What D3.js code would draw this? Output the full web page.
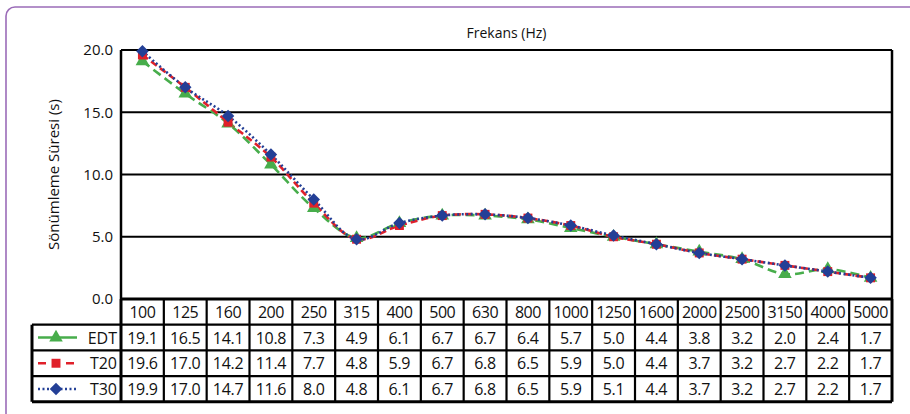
<!DOCTYPE html>
<html>
<head>
<meta charset="utf-8">
<script src="https://cdn.jsdelivr.net/npm/d3@7"></script>
<style>
  body { margin: 0; background: #fff; }
  svg { display: block; font-family: "Open Sans", sans-serif; }
</style>
</head>
<body>
<div id="chart"></div>
<script>
const categories = ["100", "125", "160", "200", "250", "315", "400", "500", "630", "800", "1000", "1250", "1600", "2000", "2500", "3150", "4000", "5000"];
const edt = [19.1, 16.5, 14.1, 10.8, 7.3, 4.9, 6.1, 6.7, 6.7, 6.4, 5.7, 5.0, 4.4, 3.8, 3.2, 2.0, 2.4, 1.7];
const t20 = [19.6, 17.0, 14.2, 11.4, 7.7, 4.8, 5.9, 6.7, 6.8, 6.5, 5.9, 5.0, 4.4, 3.7, 3.2, 2.7, 2.2, 1.7];
const t30 = [19.9, 17.0, 14.7, 11.6, 8.0, 4.8, 6.1, 6.7, 6.8, 6.5, 5.9, 5.1, 4.4, 3.7, 3.2, 2.7, 2.2, 1.7];
const yTicks = [0, 5, 10, 15, 20];
const seriesNames = ["EDT", "T20", "T30"];

const width = 910, height = 414;
const margin = { left: 121, right: 18, top: 50, bottom: 115 };
const graphWidth = width - margin.left - margin.right;
const graphHeight = height - margin.top - margin.bottom;
const rowH = 25.7;
const legendLeft = 32;

// diamond = square turned 45 degrees
const series = [
  { name: seriesNames[0], values: edt, color: "#47ad4b", dash: "9,5", legendDash: null, marker: d3.symbolTriangle, size: 80, rot: 0 },
  { name: seriesNames[1], values: t20, color: "#e0202a", dash: "7,4", legendDash: "8,6", marker: d3.symbolSquare, size: 80, rot: 0 },
  { name: seriesNames[2], values: t30, color: "#233f96", dash: "2,2.5", legendDash: "2,2.5", marker: d3.symbolSquare, size: 78, rot: 45 }
];

const svg = d3.select("#chart").append("svg")
  .attr("width", width)
  .attr("height", height);

// purple frame
svg.append("rect")
  .attr("x", 6).attr("y", 7)
  .attr("width", width + 20).attr("height", height + 20)
  .attr("rx", 9)
  .attr("fill", "none")
  .attr("stroke", "#9b6cb8")
  .attr("stroke-width", 1.6);

const x = d3.scaleBand()
  .domain(categories)
  .range([margin.left, margin.left + graphWidth]);

const y = d3.scaleLinear()
  .domain([0, 20])
  .range([margin.top + graphHeight, margin.top]);

// gridlines
svg.append("g")
  .selectAll("line")
  .data(yTicks)
  .enter().append("line")
  .attr("x1", margin.left).attr("x2", margin.left + graphWidth)
  .attr("y1", d => y(d)).attr("y2", d => y(d))
  .attr("stroke", "#000")
  .attr("stroke-width", 2.2);

// y axis labels
const yAxis = d3.axisLeft(y)
  .tickValues(yTicks)
  .tickSize(0)
  .tickPadding(8)
  .tickFormat(d3.format(".1f"));
const yAxisGroup = svg.append("g")
  .attr("transform", `translate(${margin.left}, 0)`)
  .call(yAxis);
yAxisGroup.select(".domain").remove();
yAxisGroup.selectAll("text")
  .attr("font-size", 15)
  .attr("font-family", "Open Sans, sans-serif")
  .attr("fill", "#111");

// plot frame
svg.append("line")
  .attr("x1", margin.left).attr("x2", margin.left)
  .attr("y1", margin.top).attr("y2", margin.top + graphHeight)
  .attr("stroke", "#000").attr("stroke-width", 2.5);
svg.append("line")
  .attr("x1", margin.left + graphWidth).attr("x2", margin.left + graphWidth)
  .attr("y1", margin.top).attr("y2", margin.top + graphHeight)
  .attr("stroke", "#000").attr("stroke-width", 2.5);

// titles
svg.append("text")
  .attr("x", margin.left + graphWidth / 2)
  .attr("y", 38)
  .attr("text-anchor", "middle")
  .attr("font-size", 14)
  .attr("fill", "#111")
  .text("Frekans (Hz)");

svg.append("text")
  .attr("transform", `translate(59, ${margin.top + graphHeight / 2}) rotate(-90)`)
  .attr("text-anchor", "middle")
  .attr("font-size", 15)
  .attr("fill", "#111")
  .text("Sönümleme Süresi (s)");

// lines and markers
const cx = i => x(categories[i]) + x.bandwidth() / 2;
const line = d3.line()
  .x((d, i) => cx(i))
  .y(d => y(d))
  .curve(d3.curveCatmullRom.alpha(0.5));

series.forEach(s => {
  svg.append("path")
    .datum(s.values)
    .attr("d", line)
    .attr("fill", "none")
    .attr("stroke", s.color)
    .attr("stroke-width", 2.6)
    .attr("stroke-dasharray", s.dash);
});

series.forEach(s => {
  svg.append("g")
    .selectAll("path")
    .data(s.values)
    .enter().append("path")
    .attr("d", d3.symbol().type(s.marker).size(s.size))
    .attr("transform", (d, i) => `translate(${cx(i)}, ${y(d)}) rotate(${s.rot})`)
    .attr("fill", s.color);
});

// data table
const tableTop = margin.top + graphHeight;
const table = svg.append("g");
const textColor = "#111";

// header row
table.selectAll("text.cat")
  .data(categories)
  .enter().append("text")
  .attr("class", "cat")
  .attr("x", d => x(d) + x.bandwidth() / 2)
  .attr("y", tableTop + rowH / 2 + 6)
  .attr("text-anchor", "middle")
  .attr("font-size", 16)
  .attr("letter-spacing", -0.5)
  .attr("fill", textColor)
  .text(d => d);

// value rows
series.forEach((s, r) => {
  const rowY = tableTop + rowH * (r + 1);
  table.append("g")
    .selectAll("text")
    .data(s.values)
    .enter().append("text")
    .attr("x", (d, i) => cx(i))
    .attr("y", rowY + rowH / 2 + 6)
    .attr("text-anchor", "middle")
    .attr("font-size", 16)
    .attr("letter-spacing", -0.3)
    .attr("fill", textColor)
    .text(d => d3.format(".1f")(d));

  // legend key
  const ly = rowY + rowH / 2;
  table.append("line")
    .attr("x1", legendLeft + 6).attr("x2", legendLeft + 45)
    .attr("y1", ly).attr("y2", ly)
    .attr("stroke", s.color)
    .attr("stroke-width", 2.6)
    .attr("stroke-dasharray", s.legendDash);
  table.append("path")
    .attr("d", d3.symbol().type(s.marker).size(s.size))
    .attr("transform", `translate(${legendLeft + 24}, ${ly}) rotate(${s.rot})`)
    .attr("fill", s.color);
  table.append("text")
    .attr("x", margin.left - 4)
    .attr("y", ly + 6)
    .attr("text-anchor", "end")
    .attr("font-size", 16)
    .attr("fill", textColor)
    .text(s.name);
});

// table grid
const tableBottom = tableTop + rowH * 4;
const gridColor = "#000";
// horizontal lines
[0, 1, 2, 3, 4].forEach(k => {
  table.append("line")
    .attr("x1", k === 0 ? margin.left : legendLeft)
    .attr("x2", margin.left + graphWidth)
    .attr("y1", tableTop + rowH * k).attr("y2", tableTop + rowH * k)
    .attr("stroke", gridColor)
    .attr("stroke-width", k === 0 || k === 4 ? 3 : 2.2);
});
// vertical lines
table.selectAll("line.v")
  .data(categories.concat(["end"]))
  .enter().append("line")
  .attr("class", "v")
  .attr("x1", (d, i) => margin.left + i * x.bandwidth())
  .attr("x2", (d, i) => margin.left + i * x.bandwidth())
  .attr("y1", tableTop).attr("y2", tableBottom)
  .attr("stroke", gridColor)
  .attr("stroke-width", (d, i) => i === 0 || i === categories.length ? 3 : 2.2);
table.append("line")
  .attr("x1", legendLeft).attr("x2", legendLeft)
  .attr("y1", tableTop + rowH).attr("y2", tableBottom)
  .attr("stroke", gridColor).attr("stroke-width", 3);
</script>
</body>
</html>
